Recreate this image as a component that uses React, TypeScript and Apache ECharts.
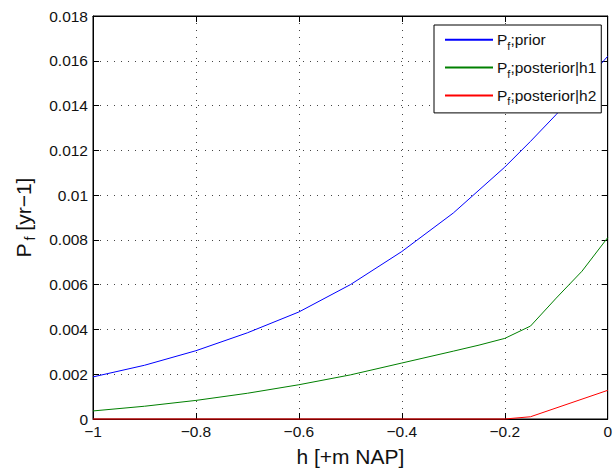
import React, { useEffect, useRef } from 'react';
import * as echarts from 'echarts';

const xTicks = [-1, -0.8, -0.6, -0.4, -0.2, 0];
const yTicks = [0, 0.002, 0.004, 0.006, 0.008, 0.01, 0.012, 0.014, 0.016, 0.018];

const priorX = [-1, -0.9, -0.8, -0.7, -0.6, -0.5, -0.4, -0.3, -0.2, -0.15, -0.1, -0.05, 0];
const priorY = [0.00188, 0.0024, 0.00305, 0.00385, 0.00478, 0.006, 0.00748, 0.0092, 0.01125, 0.0124, 0.0136, 0.0149, 0.0162];

const h1X = [-1, -0.9, -0.8, -0.7, -0.6, -0.5, -0.4, -0.3, -0.25, -0.2, -0.15, -0.1, -0.05, 0];
const h1Y = [0.00036, 0.00057, 0.00083, 0.00115, 0.00153, 0.00197, 0.0025, 0.00303, 0.0033, 0.0036, 0.00415, 0.0054, 0.0066, 0.0081];

const h2X = [-1, -0.2, -0.15, 0];
const h2Y = [0, 0, 0.0001, 0.00128];

const seriesNames = ['prior', 'posterior|h1', 'posterior|h2'];
const seriesColors = ['#0000ff', '#008000', '#ff0000'];

const FONT = '"Liberation Sans", Arial, Helvetica, sans-serif';

const pairs = (xs: number[], ys: number[]) => xs.map((x, i) => [x, ys[i]]);

export default function App() {
  const ref = useRef<HTMLDivElement>(null);
  useEffect(() => {
    if (!ref.current) return;
    const chart = echarts.init(ref.current, undefined, { renderer: 'svg' });
    const fmtX = (v: number) => {
      const r = Math.round(v * 10) / 10;
      return r === 0 ? '0' : (r < 0 ? '\u2212' : '') + String(Math.abs(r));
    };
    const fmtY = (v: number) => String(parseFloat(v.toFixed(3)));
    const grid = { left: 93, right: 4, top: 16, bottom: 47, show: true, borderColor: '#000', borderWidth: 1 };
    const splitStyle = { show: true, lineStyle: { color: '#444', type: [1, 6] as any, width: 1 } };
    const baseX = {
      type: 'value' as const,
      min: xTicks[0],
      max: xTicks[xTicks.length - 1],
      interval: 0.2,
      axisLine: { show: true, onZero: false, lineStyle: { color: '#000', width: 1 } },
      axisTick: { show: true, inside: true, length: 6, lineStyle: { color: '#000' } },
    };
    const baseY = {
      type: 'value' as const,
      min: yTicks[0],
      max: yTicks[yTicks.length - 1],
      interval: 0.002,
      axisLine: { show: true, onZero: false, lineStyle: { color: '#000', width: 1 } },
      axisTick: { show: true, inside: true, length: 6, lineStyle: { color: '#000' } },
    };
    const data = [pairs(priorX, priorY), pairs(h1X, h1Y), pairs(h2X, h2Y)];
    chart.setOption({
      animation: false,
      backgroundColor: '#fff',
      grid,
      textStyle: { fontFamily: FONT },
      legend: {
        left: 434,
        top: 25,
        orient: 'vertical',
        backgroundColor: '#fff',
        borderColor: '#000',
        borderWidth: 1,
        borderRadius: 0,
        padding: [6, 5, 6, 10],
        itemWidth: 48,
        itemHeight: 22,
        itemGap: 7.5,
        itemStyle: { opacity: 0 },
        data: seriesNames,
        formatter: (n: string) => `{a|P}{s|f}{a|;${n}}`,
        textStyle: {
          fontFamily: FONT,
          color: '#111',
          padding: [0, 0, 0, -1],
          rich: {
            a: { fontSize: 15.5, fontFamily: FONT, color: '#111' },
            s: { fontSize: 11, fontFamily: FONT, color: '#111', padding: [12, 0, 0, 0] },
          },
        },
      },
      xAxis: [
        {
          ...baseX,
          position: 'bottom',
          name: 'h [+m NAP]',
          nameLocation: 'middle',
          nameGap: 27,
          nameTextStyle: { fontSize: 21, color: '#111', fontFamily: FONT },
          axisLabel: { show: true, fontSize: 15.5, lineHeight: 12, color: '#111', margin: 6, formatter: fmtX, fontFamily: FONT },
          splitLine: splitStyle,
        },
        {
          ...baseX,
          position: 'top',
          axisLabel: { show: false },
          splitLine: { show: false },
        },
      ],
      yAxis: [
        {
          ...baseY,
          position: 'left',
          name: '{a|P}{s|f}{a| [yr\u22121]}',
          nameLocation: 'middle',
          nameRotate: 90,
          nameGap: 56,
          nameTextStyle: {
            fontFamily: FONT,
            color: '#111',
            rich: {
              a: { fontSize: 21, fontFamily: FONT, color: '#111' },
              s: { fontSize: 14, fontFamily: FONT, color: '#111', padding: [14, 0, 0, 3] },
            },
          },
          axisLabel: { show: true, fontSize: 15.5, lineHeight: 12, color: '#111', margin: 5, formatter: fmtY, fontFamily: FONT },
          splitLine: splitStyle,
        },
        {
          ...baseY,
          position: 'right',
          axisLabel: { show: false },
          splitLine: { show: false },
        },
      ],
      series: data.map((d, i) => ({
        name: seriesNames[i],
        type: 'line',
        data: d,
        xAxisIndex: 0,
        yAxisIndex: 0,
        symbol: 'none',
        showSymbol: false,
        clip: false,
        color: seriesColors[i],
        lineStyle: { color: seriesColors[i], width: 1 },
        z: 3 + i,
      })),
    });
    return () => chart.dispose();
  }, []);
  return <div ref={ref} style={{ position: 'fixed', left: 0, top: 0, width: 615, height: 472 }} />;
}
